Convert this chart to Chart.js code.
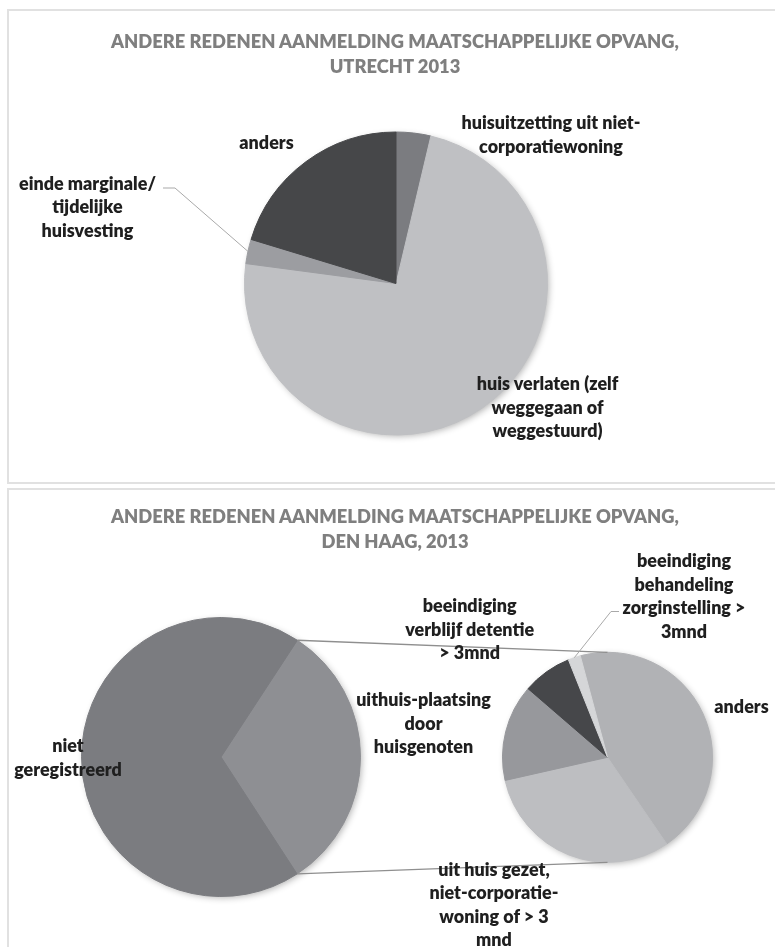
<!DOCTYPE html>
<html><head><meta charset="utf-8">
<script src="https://cdn.jsdelivr.net/npm/chart.js@4.4.1/dist/chart.umd.min.js"></script>
<style>
html,body{margin:0;padding:0;background:#fff;width:775px;height:947px;overflow:hidden;}
#stage{position:relative;width:775px;height:947px;}
.panel{position:absolute;border:2px solid #e1e1e1;box-sizing:border-box;}
canvas{position:absolute;left:0;top:0;}
.txt{position:absolute;white-space:nowrap;text-align:center;font-family:Lato,'Open Sans',sans-serif;font-weight:800;transform:translateX(-50%);}
</style></head><body><div id="stage">
<div class="panel" style="left:7px;top:9px;width:790px;height:475px"></div>
<div class="panel" style="left:7px;top:488px;width:790px;height:480px"></div>
<canvas id="c1" width="775" height="947"></canvas>
<canvas id="c2" width="775" height="947"></canvas>
<canvas id="c3" width="775" height="947"></canvas>
</div>
<script>
// ---------- DATA ----------
const titleUtrecht = ['ANDERE REDENEN AANMELDING MAATSCHAPPELIJKE OPVANG,', 'UTRECHT 2013'];
const titleHaag = ['ANDERE REDENEN AANMELDING MAATSCHAPPELIJKE OPVANG,', 'DEN HAAG, 2013'];

const utrechtLabels = ['huisuitzetting uit niet-\ncorporatiewoning', 'huis verlaten (zelf\nweggegaan of\nweggestuurd)', 'einde marginale/\ntijdelijke\nhuisvesting', 'anders'];
const utrechtValues = [3.7, 73.4, 2.6, 20.3];

const haagSubLabels = ['anders', 'uit huis gezet,\nniet-corporatie-\nwoning of > 3\nmnd', 'uithuis-plaatsing\ndoor\nhuisgenoten', 'beeindiging\nverblijf detentie\n> 3mnd', 'beeindiging\nbehandeling\nzorginstelling >\n3mnd'];
const haagSubValues = [14.1, 9.8, 4.7, 2.4, 0.6];

const haagMainLabels = ['overig', 'niet\ngeregistreerd'];
const haagMainValues = [haagSubValues.reduce((a, b) => a + b, 0), 68.4];

// ---------- STYLE / LAYOUT ----------
const W = 775, H = 947;
const FONT = "Lato, 'Open Sans', sans-serif";
const WEIGHT = 800;
const utrechtColors = ['#7b7c80', '#bfc0c3', '#9c9da1', '#464749'];
const haagMainColors = ['#8e8f93', '#7b7c80'];
const haagSubColors = ['#b1b2b5', '#bdbec1', '#97989c', '#46474a', '#d5d6d8'];

const mctx = document.createElement('canvas').getContext('2d');
function fitSize(text, target) {
  mctx.font = WEIGHT + ' 100px ' + FONT;
  return 100 * target / mctx.measureText(text).width;
}
const titleSize = fitSize(titleUtrecht[0], 569);
const labelSize = fitSize('huisuitzetting uit niet-', 179);
const LABEL_LH = 23.6, TITLE_LH = 25;

const stage = document.getElementById('stage');
function addText(lines, x, y, size, lh, color) {
  const d = document.createElement('div');
  d.className = 'txt';
  d.style.left = x + 'px';
  d.style.top = (y - lh / 2) + 'px';
  d.style.fontSize = size + 'px';
  d.style.lineHeight = lh + 'px';
  d.style.color = color;
  d.innerHTML = lines.map(s => s.replace(/&/g, '&amp;').replace(/</g, '&lt;').replace(/>/g, '&gt;')).join('<br>');
  stage.appendChild(d);
}

const shadowPlugin = {
  id: 'pieShadow',
  beforeDatasetsDraw(chart) {
    const a = chart.getDatasetMeta(0).data[0];
    const ctx = chart.ctx;
    ctx.save();
    ctx.shadowColor = 'rgba(0,0,0,0.32)';
    ctx.shadowBlur = 7;
    ctx.shadowOffsetX = 2;
    ctx.shadowOffsetY = 2;
    ctx.beginPath();
    ctx.arc(a.x, a.y, a.outerRadius - 1, 0, Math.PI * 2);
    ctx.fillStyle = '#a0a0a0';
    ctx.fill();
    ctx.restore();
  }
};

function arcPoint(a, ang) {
  return { x: a.x + a.outerRadius * Math.cos(ang), y: a.y + a.outerRadius * Math.sin(ang) };
}

function leaderPlugin(idx, pts) {
  return {
    id: 'leader' + idx,
    afterDatasetsDraw(chart) {
      const a = chart.getDatasetMeta(0).data[idx];
      const p = arcPoint(a, (a.startAngle + a.endAngle) / 2);
      const ctx = chart.ctx;
      ctx.save();
      ctx.strokeStyle = '#a9a9a9';
      ctx.lineWidth = 1;
      ctx.beginPath();
      ctx.moveTo(pts[0][0], pts[0][1]);
      for (let i = 1; i < pts.length; i++) ctx.lineTo(pts[i][0], pts[i][1]);
      ctx.lineTo(p.x, p.y);
      ctx.stroke();
      ctx.restore();
    }
  };
}

function pieChart(id, labels, values, colors, cx, cy, r, rotation, plugins) {
  return new Chart(document.getElementById(id), {
    type: 'pie',
    data: { labels: labels, datasets: [{ data: values, backgroundColor: colors, borderColor: colors, borderWidth: 1, hoverOffset: 0, offset: 0, hoverBorderWidth: 0 }] },
    options: {
      responsive: false, animation: false, events: [],
      rotation: rotation, radius: r - 0.5,
      layout: { padding: { left: cx - r, top: cy - r, right: W - cx - r, bottom: H - cy - r } },
      plugins: { legend: { display: false }, tooltip: { enabled: false }, title: { display: false } }
    },
    plugins: plugins
  });
}

// Top: Utrecht
const chartU = pieChart('c1', utrechtLabels, utrechtValues, utrechtColors, 396, 283.5, 152, 0,
  [shadowPlugin, leaderPlugin(2, [[163, 188], [175, 188]])]);

// Bottom: Den Haag main pie
const chartM = pieChart('c2', haagMainLabels, haagMainValues, haagMainColors, 221, 757, 140, 33.2, [shadowPlugin]);

// Bottom: Den Haag secondary pie with connectors
const connectorPlugin = {
  id: 'connectors',
  afterDatasetsDraw(chart) {
    const m = chartM.getDatasetMeta(0).data[0];
    const s = chart.getDatasetMeta(0).data[0];
    const p1 = arcPoint(m, m.startAngle), p2 = arcPoint(m, m.endAngle);
    const ctx = chart.ctx;
    ctx.save();
    ctx.strokeStyle = '#8f8f8f';
    ctx.lineWidth = 1.3;
    ctx.beginPath();
    ctx.moveTo(p1.x, p1.y); ctx.lineTo(s.x, s.y - s.outerRadius);
    ctx.moveTo(p2.x, p2.y); ctx.lineTo(s.x, s.y + s.outerRadius);
    ctx.stroke();
    ctx.restore();
  }
};
const chartS = pieChart('c3', haagSubLabels, haagSubValues, haagSubColors, 607.5, 757.3, 105.5, -15,
  [shadowPlugin, connectorPlugin, leaderPlugin(4, [[619, 611.5], [611, 611.5]])]);

// ---------- TEXT ----------
addText(titleUtrecht, 395, 41.7, titleSize, TITLE_LH, '#7f7f7f');
addText(titleHaag, 395, 516.7, titleSize, TITLE_LH, '#7f7f7f');

const labelLayout = [
  { labels: utrechtLabels, idx: 0, x: 551, y: 123 },
  { labels: utrechtLabels, idx: 1, x: 547.5, y: 384 },
  { labels: utrechtLabels, idx: 2, x: 87.5, y: 183.3 },
  { labels: utrechtLabels, idx: 3, x: 266.5, y: 142.7 },
  { labels: haagMainLabels, idx: 1, x: 68, y: 746 },
  { labels: haagSubLabels, idx: 0, x: 741.5, y: 706.7 },
  { labels: haagSubLabels, idx: 1, x: 494, y: 869.3 },
  { labels: haagSubLabels, idx: 2, x: 423.5, y: 700 },
  { labels: haagSubLabels, idx: 3, x: 469.7, y: 606 },
  { labels: haagSubLabels, idx: 4, x: 684, y: 561 }
];
labelLayout.forEach(l => addText(l.labels[l.idx].split('\n'), l.x, l.y, labelSize, LABEL_LH, '#1f1f1f'));
</script>
</body></html>
